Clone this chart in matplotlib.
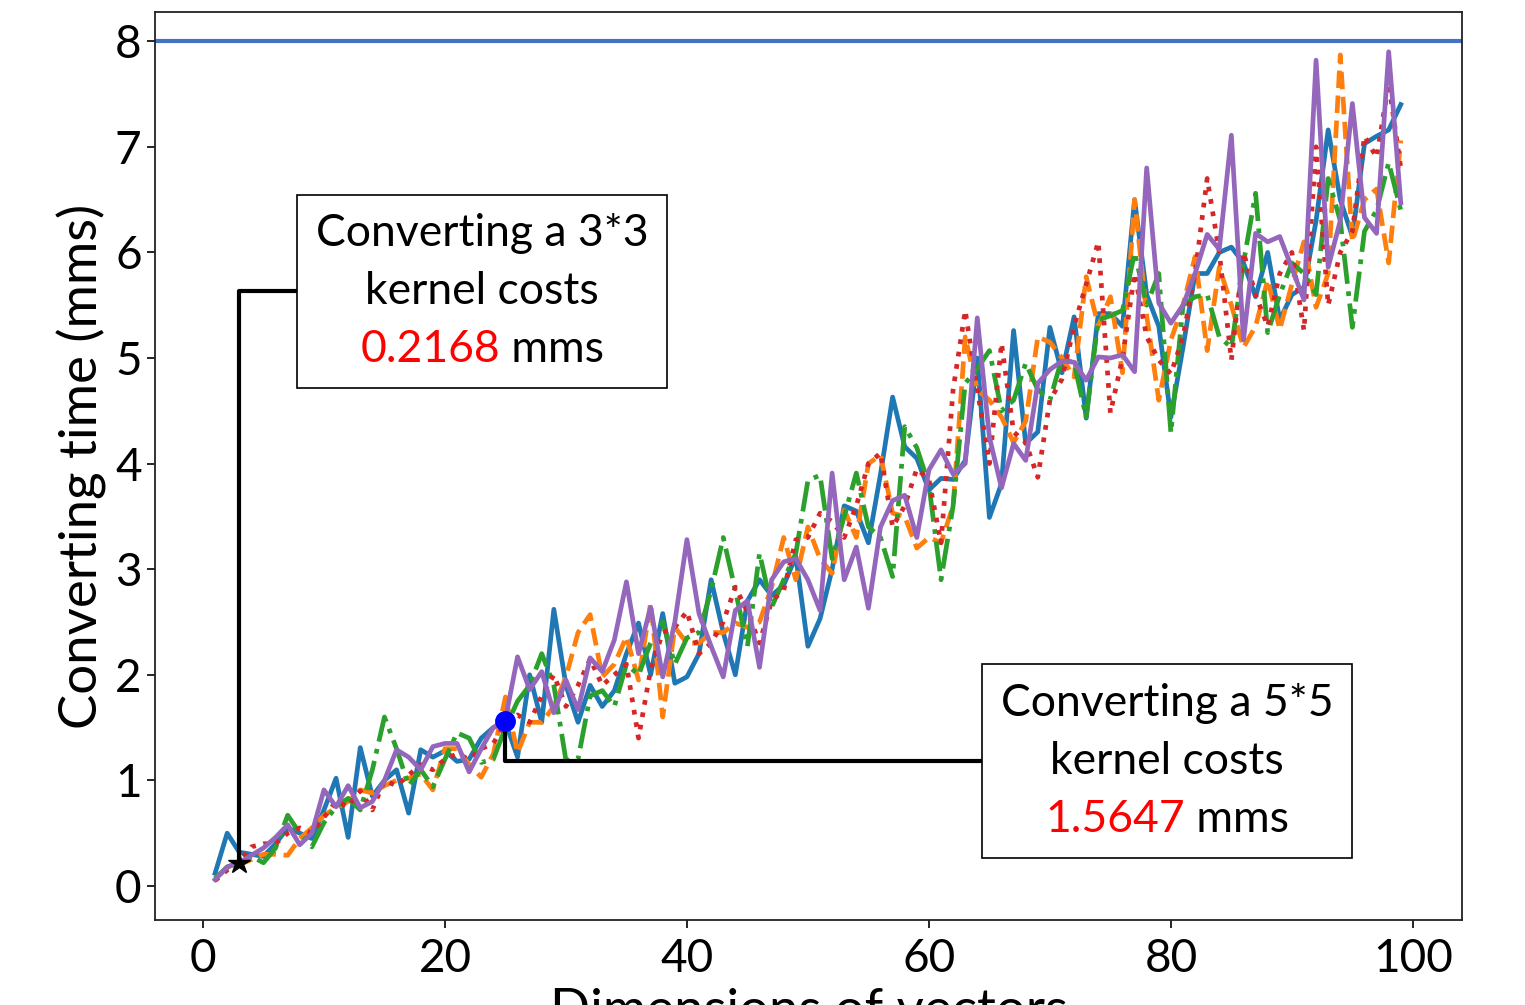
import matplotlib
matplotlib.use('Agg')
import matplotlib.pyplot as plt
from matplotlib.offsetbox import TextArea, VPacker, HPacker, AnnotationBbox

dims = list(range(1, 100))

# converting time (mms) per vector dimension, five runs
run_a = [0.12, 0.50, 0.32, 0.30, 0.28, 0.40, 0.55, 0.50, 0.45, 0.72,
         1.02, 0.46, 1.31, 0.85, 1.00, 1.10, 0.69, 1.29, 1.22, 1.28,
         1.18, 1.20, 1.40, 1.50, 1.55, 1.22, 2.00, 1.55, 2.62, 1.90,
         1.55, 1.90, 1.70, 1.85, 2.20, 2.49, 2.00, 2.58, 1.92, 1.98,
         2.20, 2.90, 2.40, 2.00, 2.70, 2.90, 2.75, 2.85, 3.12, 2.27,
         2.53, 3.00, 3.60, 3.55, 3.25, 3.90, 4.63, 4.16, 4.05, 3.75,
         3.86, 3.85, 4.03, 5.00, 3.49, 3.81, 5.26, 4.19, 4.30, 5.29,
         4.86, 5.39, 4.43, 5.42, 5.42, 5.30, 6.50, 5.60, 5.30, 4.44,
         5.10, 5.80, 5.80, 6.00, 6.05, 5.90, 5.58, 6.00, 5.36, 5.60,
         5.67, 6.30, 7.16, 6.50, 6.15, 7.03, 7.10, 7.16, 7.40]
run_b = [0.07, 0.17, 0.20, 0.25, 0.30, 0.30, 0.29, 0.45, 0.55, 0.67,
         0.74, 0.80, 0.91, 0.88, 0.95, 1.00, 1.02, 1.06, 0.91, 1.30,
         1.30, 1.15, 1.03, 1.25, 1.79, 1.26, 1.55, 1.55, 1.70, 1.98,
         2.40, 2.57, 1.98, 2.10, 2.36, 1.95, 2.68, 1.60, 2.45, 2.30,
         2.30, 2.40, 2.40, 2.49, 2.45, 2.50, 2.83, 3.30, 2.90, 3.40,
         3.10, 2.96, 3.56, 3.30, 4.00, 4.08, 3.53, 3.50, 3.20, 3.30,
         3.25, 3.60, 5.20, 4.70, 4.60, 4.44, 4.20, 4.40, 5.20, 5.15,
         5.00, 4.82, 5.77, 5.30, 5.58, 4.86, 6.50, 5.40, 4.60, 5.17,
         5.50, 5.96, 5.07, 5.86, 5.50, 5.10, 5.30, 5.74, 5.27, 5.70,
         6.10, 5.48, 5.80, 7.87, 6.10, 6.50, 6.60, 5.90, 7.06]
run_c = [0.07, 0.18, 0.22, 0.28, 0.22, 0.36, 0.67, 0.50, 0.37, 0.60,
         0.75, 0.83, 0.72, 1.10, 1.60, 1.30, 0.95, 1.10, 0.94, 1.20,
         1.45, 1.40, 1.17, 1.20, 1.50, 1.75, 1.90, 2.20, 1.90, 1.19,
         1.20, 1.80, 1.85, 1.70, 2.10, 2.00, 2.30, 2.50, 2.10, 2.35,
         2.40, 2.80, 3.30, 2.80, 2.27, 3.15, 2.64, 2.90, 3.15, 3.84,
         3.89, 3.10, 3.50, 3.91, 3.40, 3.30, 2.93, 4.35, 4.15, 3.80,
         2.90, 3.60, 4.76, 4.90, 5.07, 4.50, 4.60, 4.95, 4.70, 4.60,
         5.00, 4.95, 4.44, 5.36, 5.40, 5.45, 6.00, 5.50, 5.80, 4.29,
         5.50, 5.58, 5.60, 5.20, 5.10, 5.90, 6.56, 5.24, 5.60, 5.90,
         5.80, 5.60, 6.70, 6.30, 5.29, 6.20, 6.40, 6.85, 6.40]
run_d = [0.05, 0.15, 0.22, 0.37, 0.40, 0.40, 0.50, 0.55, 0.50, 0.65,
         0.80, 0.75, 0.90, 0.72, 1.00, 0.95, 1.05, 1.15, 1.10, 1.20,
         1.25, 1.20, 1.30, 1.35, 1.55, 1.62, 1.55, 1.80, 2.00, 1.70,
         1.90, 2.15, 1.90, 2.00, 2.10, 1.40, 2.05, 2.40, 2.45, 2.60,
         2.20, 2.30, 2.50, 2.83, 2.60, 2.30, 2.70, 2.80, 3.28, 3.30,
         3.53, 3.45, 3.30, 3.60, 4.00, 4.10, 3.40, 3.60, 3.95, 3.85,
         3.25, 4.70, 5.45, 4.70, 4.00, 5.14, 4.30, 4.20, 3.87, 4.60,
         4.80, 5.30, 5.70, 6.10, 4.48, 5.00, 5.80, 5.20, 4.98, 4.85,
         5.20, 5.80, 6.70, 6.00, 4.98, 6.00, 5.60, 5.30, 5.80, 6.00,
         5.26, 7.00, 5.50, 6.00, 6.20, 7.10, 6.90, 7.60, 6.80]
run_e = [0.06, 0.18, 0.22, 0.29, 0.36, 0.46, 0.58, 0.39, 0.50, 0.91,
         0.75, 0.95, 0.74, 0.80, 1.00, 1.29, 1.22, 1.10, 1.32, 1.35,
         1.35, 1.08, 1.30, 1.50, 1.58, 2.17, 1.86, 2.03, 1.64, 1.95,
         1.67, 2.16, 2.03, 2.33, 2.88, 2.20, 2.64, 1.98, 2.50, 3.28,
         2.58, 2.27, 1.98, 2.61, 2.70, 2.07, 2.90, 3.07, 3.10, 2.90,
         2.61, 3.91, 2.90, 3.21, 2.63, 3.40, 3.65, 3.70, 3.30, 3.94,
         4.13, 3.90, 4.00, 5.38, 4.25, 3.77, 4.19, 4.03, 4.76, 4.89,
         4.97, 4.96, 4.79, 5.01, 5.00, 5.03, 4.87, 6.80, 5.52, 5.33,
         5.50, 5.80, 6.17, 6.03, 7.11, 5.17, 6.18, 6.10, 6.15, 5.85,
         5.55, 7.82, 5.86, 6.30, 7.41, 6.33, 6.18, 7.90, 6.47]

limit = 8
k3_dim, k3_cost = 3, 0.2168
k5_dim, k5_cost = 25, 1.5647

plt.rcParams['font.family'] = ['Lato', 'DejaVu Sans']

fig = plt.figure(figsize=(15.25, 10.05), dpi=100)
ax = fig.add_axes([0.1016, 0.0846, 0.857, 0.9035])

ax.plot(dims, run_a, color='#1f77b4', lw=3.4, ls='-')
ax.plot(dims, run_b, color='#ff7f0e', lw=3.4, ls='--')
ax.plot(dims, run_c, color='#2ca02c', lw=3.4, ls='-.')
ax.plot(dims, run_d, color='#d62728', lw=3.4, ls=':')
ax.plot(dims, run_e, color='#9467bd', lw=3.4, ls='-')
ax.axhline(limit, color='#4472C4', lw=3)

ax.plot(k3_dim, k3_cost, marker='*', color='black', ms=16, zorder=5)
ax.plot(k5_dim, k5_cost, marker='o', color='blue', ms=14, zorder=5)

ax.set_xlim(-3.97, 104.05)
ax.set_ylim(-0.322, 8.277)
ax.set_xticks([0, 20, 40, 60, 80, 100])
ax.set_yticks(range(0, 9))
ax.tick_params(labelsize=33, length=6, width=1.2)
ax.tick_params(axis='x', pad=7)
for sp in ax.spines.values():
    sp.set_linewidth(1.3)
    sp.set_color('#222222')

ax.set_ylabel('Converting time (mms)', fontsize=38, labelpad=6)
ax.set_xlabel('Dimensions of vectors', fontsize=38, labelpad=6)


def note_box(size, cost):
    fs = 32
    lines = [TextArea('Converting a %s' % size, textprops=dict(fontsize=fs)),
             TextArea('kernel costs', textprops=dict(fontsize=fs)),
             HPacker(children=[TextArea('%.4f' % cost, textprops=dict(fontsize=fs, color='red')),
                               TextArea(' mms', textprops=dict(fontsize=fs))],
                     align='baseline', pad=0, sep=0)]
    return VPacker(children=lines, align='center', pad=13.5, sep=12)


arrow = dict(arrowstyle='-', connectionstyle='angle,angleA=0,angleB=90,rad=0',
             lw=3, color='black', shrinkA=0, shrinkB=0)

ab1 = AnnotationBbox(note_box('3*3', k3_cost), (k3_dim, k3_cost), xybox=(23.06, 5.63),
                     xycoords='data', boxcoords='data', pad=0,
                     bboxprops=dict(boxstyle='square,pad=0', edgecolor='black', lw=1.2),
                     arrowprops=arrow)
ax.add_artist(ab1)
ab2 = AnnotationBbox(note_box('5*5', k5_cost), (k5_dim, k5_cost), xybox=(79.7, 1.18),
                     xycoords='data', boxcoords='data', pad=0,
                     bboxprops=dict(boxstyle='square,pad=0', edgecolor='black', lw=1.2),
                     arrowprops=dict(arrow))
ax.add_artist(ab2)

fig.savefig('out.png', dpi=100)
